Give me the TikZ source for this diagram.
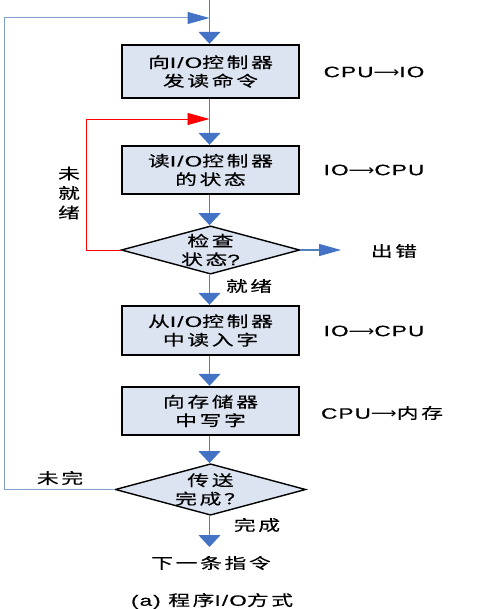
\documentclass[tikz,border=0pt]{standalone}
\usepackage{fontspec}
\usetikzlibrary{shapes.geometric,arrows.meta}
\setmainfont[FakeStretch=1.5,LetterSpace=8,FakeBold=0.6]{Liberation Sans}
\newfontfamily\cjk[FakeStretch=1.45,LetterSpace=18,FakeBold=0.5]{Noto Sans CJK SC}
\newfontfamily\arrowfont[FakeStretch=1.2]{DejaVu Sans}
\newcommand{\zhtxt}[1]{{\cjk #1}}
\newcommand{\rarr}{{\arrowfont ⟶}}
\newcommand{\txtfont}{\fontsize{15}{18.5}\selectfont}
\definecolor{boxfill}{RGB}{220,228,242}
\definecolor{flowblue}{RGB}{79,129,189}
\definecolor{headblue}{RGB}{68,114,196}
\definecolor{loopblue}{RGB}{130,160,205}
\begin{document}
\begin{tikzpicture}[x=1pt,y=-1pt,
  box/.style={draw=black, line width=2.4pt, fill=boxfill, minimum width=177pt, minimum height=49pt, align=center, inner sep=0pt, font=\txtfont},
  decision/.style={diamond, draw=black, line width=1.4pt, fill=boxfill, shape aspect=3.7, align=center, inner sep=0pt, font=\txtfont},
  lbl/.style={font=\txtfont, inner sep=0pt, align=center},
  flow/.style={draw=flowblue, line width=1.3pt},
  vhead/.style={-{Triangle[length=12pt,width=22pt,color=headblue]}},
  hhead/.style={-{Triangle[length=22pt,width=12pt,color=headblue]}},
  loopline/.style={draw=loopblue, line width=1pt},
  redline/.style={draw=red, line width=0.9pt, -{Triangle[length=22pt,width=12pt,color=red]}}
]
\useasboundingbox (0,0) rectangle (477,609);

% nodes
\node[box, minimum height=53pt] (b1) at (210.5,71.5) {\zhtxt{向}I/O\zhtxt{控制器}\\\zhtxt{发读命令}};
\node[box, minimum height=48pt] (b2) at (210.5,170) {\zhtxt{读}I/O\zhtxt{控制器}\\\zhtxt{的状态}};
\node[decision, minimum width=178pt, minimum height=48pt] (d1) at (210.5,250) {\zhtxt{检查}\\\zhtxt{状态}?};
\node[box] (b3) at (210.5,330.5) {\zhtxt{从}I/O\zhtxt{控制器}\\\zhtxt{中读入字}};
\node[box, minimum height=48pt] (b4) at (210.5,411) {\zhtxt{向存储器}\\\zhtxt{中写字}};
\node[decision, minimum width=189pt, minimum height=45pt] (d2) at (210.5,489.5) {\zhtxt{传送}\\\zhtxt{完成？}};

\node[lbl] (t1) at (374,72) {CPU\rarr IO};
\node[lbl] (t2) at (374,170) {IO\rarr CPU};
\node[lbl] (t3) at (374,331) {IO\rarr CPU};
\node[lbl] (t4) at (382,413) {CPU\rarr\zhtxt{内存}};
\node[lbl] (err) at (394,251) {\zhtxt{出错}};
\node[lbl] (ready) at (249,286) {\zhtxt{就绪}};
\node[lbl, font=\fontsize{15}{19.5}\selectfont] (notready) at (69,193) {\zhtxt{未}\\\zhtxt{就}\\\zhtxt{绪}};
\node[lbl] (notdone) at (60,478) {\zhtxt{未完}};
\node[lbl] (done) at (257,525) {\zhtxt{完成}};
\node[lbl] (next) at (211,563) {\zhtxt{下一条指令}};
\node[lbl] (cap) at (212,601) {(a) \zhtxt{程序}I/O\zhtxt{方式}};

% coordinates
\coordinate (top) at (209.5,0);
\coordinate (j1) at (209.5,18);
\coordinate (l1) at (4,18);
\coordinate (l2) at (4,489.5);
\coordinate (j2) at (209.5,119);
\coordinate (r1) at (86,119);
\coordinate (r2) at (86,250);
\coordinate (e1) at (341,250);
\coordinate (n1) at (209.5,547);

% connectors
\draw[flow, vhead] (top) -- (b1.north -| top);
\draw[flow, vhead] (b1.south -| top) -- (b2.north -| top);
\draw[flow, vhead] (b2.south -| top) -- (d1.north -| top);
\draw[flow, vhead] (d1.south -| top) -- (b3.north -| top);
\draw[flow, vhead] (b3.south -| top) -- (b4.north -| top);
\draw[flow, vhead] (b4.south -| top) -- (d2.north -| top);
\draw[flow, vhead] (d2.south -| top) -- (n1);
\draw[loopline, hhead] (d2.west) -- (l2) -- (l1) -- (j1);
\draw[redline] (d1.west) -- (r2) -- (r1) -- (j2);
\draw[flow, hhead] (d1.east) -- (e1);
\end{tikzpicture}
\end{document}
